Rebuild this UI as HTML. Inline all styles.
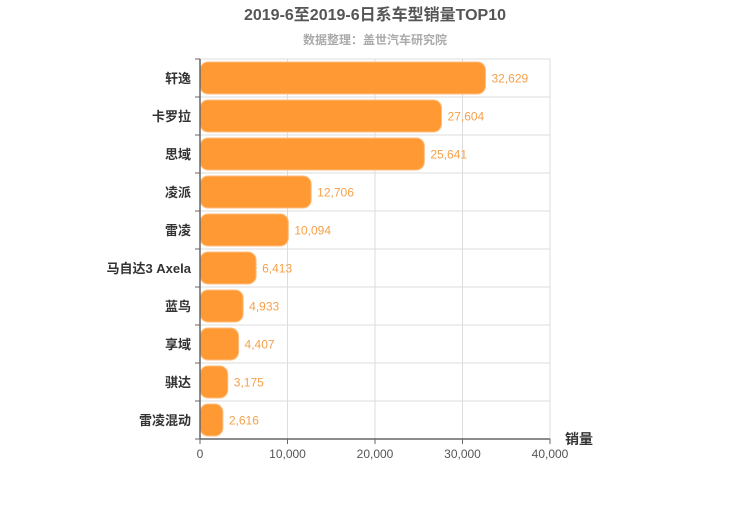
<!DOCTYPE html>
<html><head><meta charset="utf-8"><style>
body{margin:0;background:#fff;width:750px;height:500px;overflow:hidden}
text{font-family:"Liberation Sans","Noto Sans CJK SC",sans-serif}
</style></head><body>
<svg id="chart" width="750" height="500" xmlns="http://www.w3.org/2000/svg">
<text x="375" y="20" text-anchor="middle" font-size="16" font-weight="bold" fill="#555">2019-6至2019-6日系车型销量TOP10</text>
<text x="375" y="44" text-anchor="middle" font-size="12" font-weight="bold" fill="#aaa">数据整理：盖世汽车研究院</text>
<g id="grid"></g><g id="bars"></g><g id="axes"></g>
</svg>
<script>
const categories=["轩逸","卡罗拉","思域","凌派","雷凌","马自达3 Axela","蓝鸟","享域","骐达","雷凌混动"];
const values=[32629,27604,25641,12706,10094,6413,4933,4407,3175,2616];
const ticks=[0,10000,20000,30000,40000];
const tickLabels=["0","10,000","20,000","30,000","40,000"];
const NS="http://www.w3.org/2000/svg";
const x0=200,x1=550,y0=59,y1=439,maxV=40000;
const xs=v=>x0+v/maxV*(x1-x0);
const rh=(y1-y0)/categories.length;
function mk(t,a,p,txt){const e=document.createElementNS(NS,t);for(const k in a)e.setAttribute(k,a[k]);if(txt!=null)e.textContent=txt;document.getElementById(p).appendChild(e);return e;}
ticks.forEach((t,i)=>{
 const g=mk('line',{x1:xs(t),x2:xs(t),y1:y0,y2:y1,stroke:'#ddd'},'grid');
 
 
 const tk=mk('line',{x1:xs(t),x2:xs(t),y1:y1,y2:y1+5,stroke:'#666'},'axes');
 
 
 const l=mk('text',{x:xs(t),y:y1+19,'text-anchor':'middle','font-size':12,fill:'#555'},'axes',tickLabels[i]);
 
 
});
for(let i=0;i<=categories.length;i++){
 const y=y0+i*rh;
 const g=mk('line',{x1:x0,x2:x1,y1:y,y2:y,stroke:'#ddd'},'grid');
 
 
 const tk=mk('line',{x1:x0-5,x2:x0,y1:y,y2:y,stroke:'#666'},'axes');
 
 
}
categories.forEach((c,i)=>{
 const yc=y0+i*rh+rh/2;
 const w=xs(values[i])-x0;
 const b=mk('rect',{x:x0,y:yc-16,width:w,height:32,rx:8,ry:8,fill:'#ff9933',stroke:'#ffbf80','stroke-width':1},'bars');
 
 
 const v=mk('text',{x:x0+w+6,y:yc+4.5,'font-size':12,fill:'#f5a04a'},'bars',values[i].toLocaleString('en-US'));
 
 
 const l=mk('text',{x:x0-9,y:yc+5,'text-anchor':'end','font-size':13,'font-weight':'bold',fill:'#333'},'axes',c);
 
 
});
const ya=mk('line',{x1:x0,x2:x0,y1:y0,y2:y1,stroke:'#666','stroke-width':1.5},'axes');


const xa=mk('line',{x1:x0,x2:x1,y1:y1,y2:y1,stroke:'#666','stroke-width':1.5},'axes');


const xt=mk('text',{x:565,y:444,'font-size':14,'font-weight':'bold',fill:'#333'},'axes','销量');


</script>
</body></html>
